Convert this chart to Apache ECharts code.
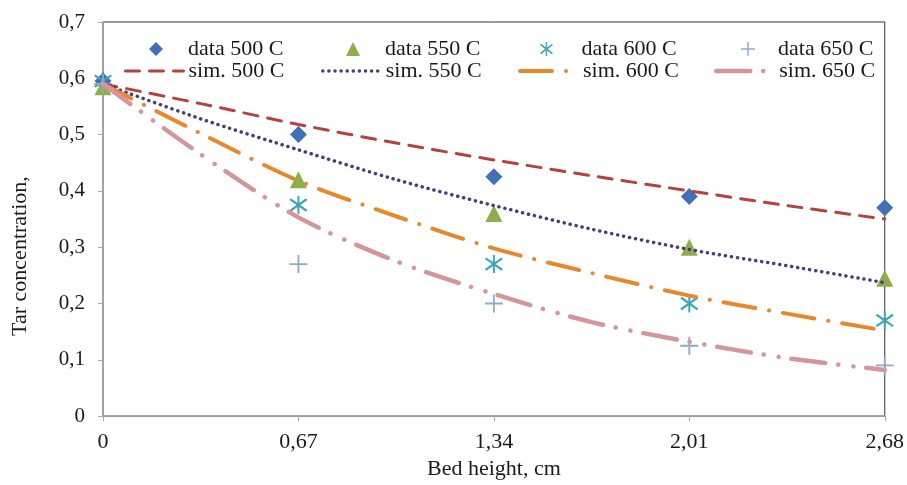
<!DOCTYPE html>
<html>
<head>
<meta charset="utf-8">
<script src="https://cdn.jsdelivr.net/npm/echarts@6/dist/echarts.min.js"></script>
<style>
html, body { margin: 0; padding: 0; background: #fff; }
#chart { width: 907px; height: 485px; }
</style>
</head>
<body>
<div id="chart"></div>
<script>
// measured points (bed height, cm)
const heights = [0, 0.67, 1.34, 2.01, 2.68];
const data500 = [0.595, 0.50, 0.425, 0.39, 0.37];
const data550 = [0.585, 0.42, 0.36, 0.30, 0.245];
const data600 = [0.595, 0.375, 0.27, 0.20, 0.17];
const data650 = [0.59, 0.27, 0.20, 0.125, 0.09];

// simulated curves
const simHeights = [0, 0.335, 0.67, 1.005, 1.34, 1.675, 2.01, 2.345, 2.68];
const sim500 = [0.59, 0.555, 0.518, 0.485, 0.455, 0.427, 0.40, 0.374, 0.35];
const sim550 = [0.59, 0.528, 0.473, 0.42, 0.374, 0.332, 0.296, 0.267, 0.237];
const sim600 = [0.59, 0.502, 0.418, 0.355, 0.298, 0.254, 0.214, 0.182, 0.152];
const sim650 = [0.59, 0.465, 0.353, 0.275, 0.217, 0.167, 0.132, 0.103, 0.082];

const xTicks = [0, 0.67, 1.34, 2.01, 2.68];
const yTicks = [0, 0.1, 0.2, 0.3, 0.4, 0.5, 0.6, 0.7];

const font = 'Liberation Serif';
const textColor = '#1a1a1a';

const plusPath = 'path://M9,0 L11,0 L11,20 L9,20 Z M0,9 L20,9 L20,11 L0,11 Z';
const starPath = 'path://M9,0 L11,0 L11,20 L9,20 Z ' +
  'M2.23,2.55 L19.23,15.55 L17.77,17.45 L0.77,4.45 Z ' +
  'M17.77,2.55 L19.23,4.45 L2.23,17.45 L0.77,15.55 Z';

function pairs (xs, ys) {
  return xs.map((x, i) => [x, ys[i]])
}

function comma (v) {
  return String(Number(v.toFixed(2))).replace('.', ',')
}

function dataSeries (name, ys, symbol, size, color) {
  return {
    name: name,
    type: 'scatter',
    data: pairs(heights, ys),
    symbol: symbol,
    symbolSize: size,
    clip: false,
    itemStyle: { color: color, opacity: 1 },
    emphasis: { disabled: true }
  }
}

function simSeries (name, ys, color, width, dash) {
  return {
    name: name,
    type: 'line',
    data: pairs(simHeights, ys),
    smooth: 0.3,
    showSymbol: false,
    symbol: 'none',
    lineStyle: { color: color, width: width, type: dash, cap: 'round' },
    itemStyle: { color: color },
    emphasis: { disabled: true }
  }
}

// one legend per cell so the 2x4 grid lines up like the original
function dataLegend (left, name, padLeft) {
  return {
    left: left,
    top: 33,
    itemWidth: 14,
    itemHeight: 14,
    selectedMode: false,
    data: [name],
    textStyle: {
      fontFamily: font, fontSize: 22, lineHeight: 22, color: textColor,
      padding: [0, 0, 0, padLeft]
    }
  }
}

function simLegend (left, name, lineWidth) {
  return {
    left: left,
    top: 55,
    itemWidth: 58,
    itemHeight: 14,
    selectedMode: false,
    data: [name],
    itemStyle: { color: 'rgba(0,0,0,0)', borderColor: 'rgba(0,0,0,0)', borderWidth: 0 },
    lineStyle: { width: lineWidth },
    textStyle: { fontFamily: font, fontSize: 22, lineHeight: 22, color: textColor }
  }
}

const chart = echarts.init(document.getElementById('chart'), null, { renderer: 'canvas' });

chart.setOption({
  animation: false,
  backgroundColor: '#fff',
  grid: {
    left: 103, right: 21, top: 22, bottom: 63,
    show: true,
    borderColor: '#333',
    borderWidth: 1
  },
  legend: [
    dataLegend(144, 'data 500 C', 20),
    dataLegend(341, 'data 550 C', 20),
    dataLegend(535, 'data 600 C', 23),
    dataLegend(736, 'data 650 C', 18),
    simLegend(119, 'sim. 500 C', 3),
    simLegend(316, 'sim. 550 C', 3.5),
    simLegend(513, 'sim. 600 C', 4),
    simLegend(709, 'sim. 650 C', 4.5)
  ],
  xAxis: {
    type: 'value',
    min: xTicks[0],
    max: xTicks[xTicks.length - 1],
    interval: 0.67,
    name: 'Bed height, cm',
    nameLocation: 'middle',
    nameGap: 38,
    nameTextStyle: { fontFamily: font, fontSize: 22, color: textColor },
    splitLine: { show: false },
    axisLine: { lineStyle: { color: '#a6a6a6', width: 1.5 } },
    axisTick: { show: true, length: 5, lineStyle: { color: '#a6a6a6' } },
    axisLabel: {
      margin: 15,
      fontFamily: font,
      fontSize: 22,
      color: textColor,
      formatter: comma
    }
  },
  yAxis: {
    type: 'value',
    min: yTicks[0],
    max: yTicks[yTicks.length - 1],
    interval: 0.1,
    name: 'Tar concentration,',
    nameLocation: 'middle',
    nameRotate: 90,
    nameGap: 72,
    nameTextStyle: { fontFamily: font, fontSize: 22, color: textColor, padding: [0, 74, 0, 0] },
    splitLine: { show: false },
    axisLine: { show: true, lineStyle: { color: '#a6a6a6', width: 1.5 } },
    axisTick: { show: true, length: 5, lineStyle: { color: '#a6a6a6' } },
    axisLabel: {
      margin: 18,
      fontFamily: font,
      fontSize: 21,
      color: textColor,
      formatter: comma
    }
  },
  series: [
    dataSeries('data 500 C', data500, 'diamond', 17, '#4270b8'),
    dataSeries('data 550 C', data550, 'triangle', 17, '#8fad4c'),
    dataSeries('data 600 C', data600, starPath, 18, '#3ca3b8'),
    dataSeries('data 650 C', data650, plusPath, 18, '#8fa9cc'),
    simSeries('sim. 500 C', sim500, '#b8403f', 3, [14, 10]),
    simSeries('sim. 550 C', sim550, '#40417c', 3.5, [0.1, 6]),
    simSeries('sim. 600 C', sim600, '#e8882a', 4, [32, 14, 0.1, 14]),
    simSeries('sim. 650 C', sim650, '#d4969b', 4.5, [34, 13, 0.1, 15, 0.1, 13])
  ]
});
</script>
</body>
</html>
